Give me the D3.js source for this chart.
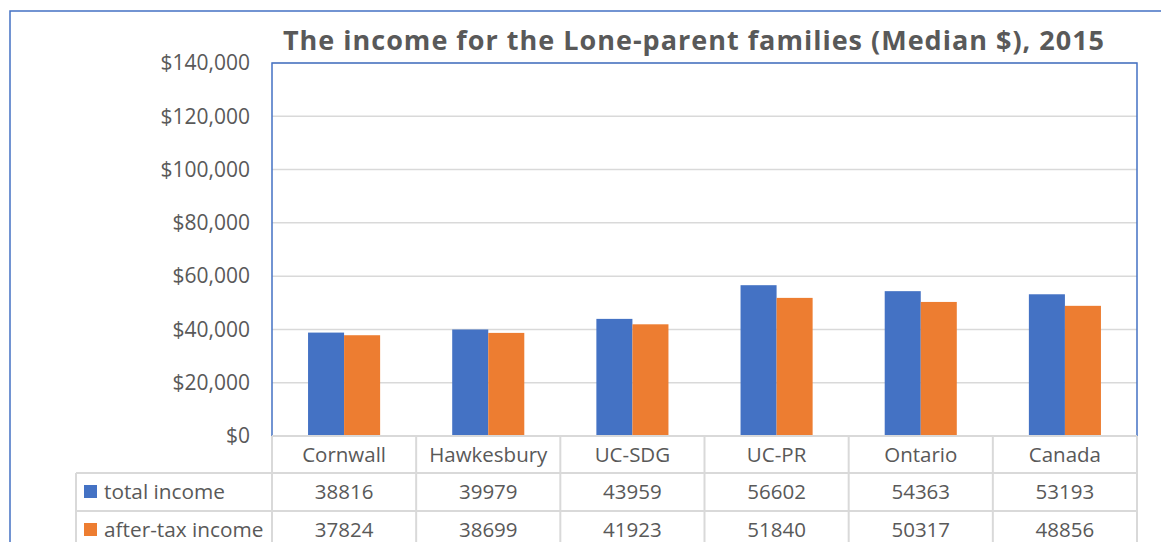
<!DOCTYPE html>
<html>
<head>
<meta charset="utf-8">
<script src="https://cdn.jsdelivr.net/npm/d3@7"></script>
<style>
  body { margin: 0; background: #fff; }
  text { font-family: "Open Sans", Lato, sans-serif; fill: #595959; }
</style>
</head>
<body>
<div id="chart"></div>
<script>
var categories = ["Cornwall", "Hawkesbury", "UC-SDG", "UC-PR", "Ontario", "Canada"];
var seriesNames = ["total income", "after-tax income"];
var totalIncome = [38816, 39979, 43959, 56602, 54363, 53193];
var afterTaxIncome = [37824, 38699, 41923, 51840, 50317, 48856];
var yTicks = [0, 20000, 40000, 60000, 80000, 100000, 120000, 140000];
var colors = ["#4472c4", "#ed7d31"];

var W = 1161, H = 542;
var plot = {left: 272, top: 63, right: 1137, bottom: 436};

var svg = d3.select("#chart").append("svg")
    .attr("width", W)
    .attr("height", H);

// outer chart frame (runs off the picture on right and bottom)
svg.append("rect")
    .attr("x", 10).attr("y", 11)
    .attr("width", W + 20).attr("height", H + 20)
    .style("fill", "none")
    .style("stroke", "#4472c4")
    .style("stroke-width", 1.5);

var x = d3.scaleBand()
    .domain(categories)
    .range([plot.left, plot.right]);

var x1 = d3.scaleBand()
    .domain(seriesNames)
    .range([0, x.bandwidth()])
    .paddingInner(0)
    .paddingOuter(1.0);

var y = d3.scaleLinear()
    .domain([0, 140000])
    .range([plot.bottom, plot.top]);

// gridlines
svg.append("g")
    .selectAll("line")
    .data(yTicks)
  .enter().append("line")
    .attr("x1", plot.left).attr("x2", plot.right)
    .attr("y1", function(d) { return y(d); })
    .attr("y2", function(d) { return y(d); })
    .style("stroke", "#d9d9d9")
    .style("stroke-width", 1.5);

// y axis labels
var yAxis = d3.axisLeft(y)
    .tickValues(yTicks)
    .tickSize(0)
    .tickPadding(22)
    .tickFormat(function(d) { return "$" + d3.format(",")(d); });

var yg = svg.append("g")
    .attr("transform", "translate(" + plot.left + ",0)")
    .call(yAxis);
yg.select(".domain").remove();
yg.selectAll("text")
    .style("font-size", "21px")
    .style("font-family", "\"Open Sans\", sans-serif")
    .attr("fill", "#595959");

// bars
var rows = [totalIncome, afterTaxIncome];
var groups = svg.append("g")
    .selectAll("g")
    .data(categories)
  .enter().append("g")
    .attr("transform", function(d) { return "translate(" + x(d) + ",0)"; });

groups.selectAll("rect")
    .data(function(d, i) {
      return seriesNames.map(function(s, k) { return {s: s, k: k, v: rows[k][i]}; });
    })
  .enter().append("rect")
    .attr("x", function(d) { return x1(d.s); })
    .attr("width", x1.bandwidth())
    .attr("y", function(d) { return y(d.v); })
    .attr("height", function(d) { return plot.bottom - y(d.v); })
    .style("fill", function(d) { return colors[d.k]; });

// plot area border (left, top, right)
svg.append("path")
    .attr("d", "M" + plot.left + "," + plot.bottom + "V" + plot.top + "H" + plot.right + "V" + plot.bottom)
    .style("fill", "none")
    .style("stroke", "#4472c4")
    .style("stroke-width", 1.5);

// data table
var rowY = [436, 473, 511, 549];
var tableLeft = 76;
var tbl = svg.append("g");

tbl.append("line")
    .attr("x1", plot.left).attr("x2", plot.right)
    .attr("y1", rowY[0]).attr("y2", rowY[0]);
[1, 2, 3].forEach(function(r) {
  tbl.append("line")
      .attr("x1", tableLeft).attr("x2", plot.right)
      .attr("y1", rowY[r]).attr("y2", rowY[r]);
});
var bounds = categories.map(function(c) { return x(c); }).concat([plot.right]);
bounds.forEach(function(bx) {
  tbl.append("line")
      .attr("x1", bx).attr("x2", bx)
      .attr("y1", rowY[0]).attr("y2", rowY[3]);
});
tbl.append("line")
    .attr("x1", tableLeft).attr("x2", tableLeft)
    .attr("y1", rowY[1]).attr("y2", rowY[3]);
tbl.selectAll("line")
    .style("stroke", "#d9d9d9")
    .style("stroke-width", 2);

// category labels
tbl.selectAll(".cat")
    .data(categories)
  .enter().append("text")
    .attr("class", "cat")
    .attr("x", function(d) { return x(d) + x.bandwidth() / 2; })
    .attr("y", (rowY[0] + rowY[1]) / 2)
    .attr("dy", "0.35em")
    .style("text-anchor", "middle")
    .style("font-size", "20.5px")
    .text(function(d) { return d; });

// series rows
seriesNames.forEach(function(s, k) {
  var cy = (rowY[k + 1] + rowY[k + 2]) / 2;
  tbl.append("rect")
      .attr("x", 84).attr("y", cy - 7)
      .attr("width", 13).attr("height", 13)
      .style("fill", colors[k]);
  tbl.append("text")
      .attr("x", 104).attr("y", cy)
      .attr("dy", "0.35em")
      .style("font-size", "20.8px")
      .text(s);
  tbl.selectAll(".v" + k)
      .data(rows[k])
    .enter().append("text")
      .attr("x", function(d, i) { return x(categories[i]) + x.bandwidth() / 2; })
      .attr("y", cy)
      .attr("dy", "0.35em")
      .style("text-anchor", "middle")
      .style("font-size", "20.5px")
      .text(function(d) { return d; });
});

// title
svg.append("text")
    .attr("x", 694)
    .attr("y", 50)
    .style("text-anchor", "middle")
    .style("font-size", "27px")
    .style("font-weight", "bold")
    .style("letter-spacing", "1px")
    .text("The income for the Lone-parent families (Median $), 2015");
</script>
</body>
</html>
